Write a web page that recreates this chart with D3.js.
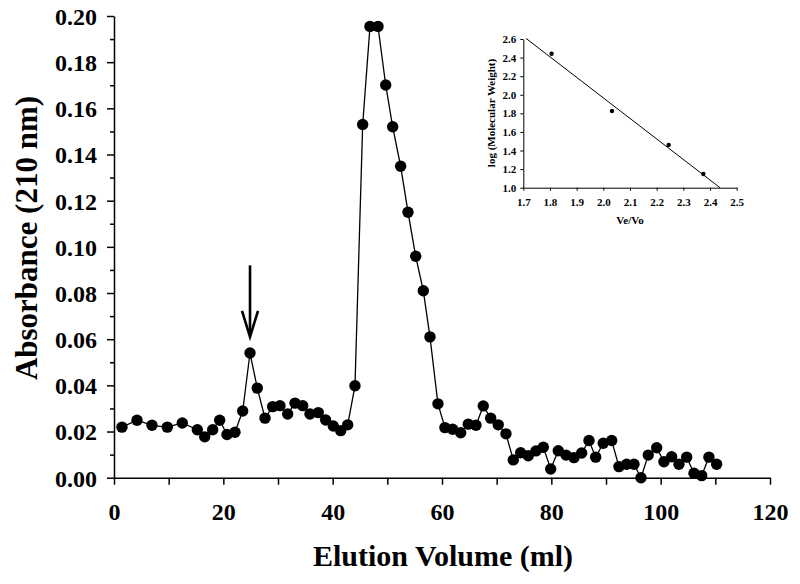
<!DOCTYPE html>
<html><head><meta charset="utf-8">
<script src="https://cdn.jsdelivr.net/npm/d3@7"></script>
<style>body{margin:0;background:#fff}svg{display:block}text{font-family:"Liberation Serif","Times New Roman",serif;font-weight:bold;fill:#000}</style>
</head><body>
<svg id="c" width="800" height="584"></svg>
<script>
// Main chromatogram
const elutionVolume = [1.46,4.21,6.95,9.75,12.49,15.24,16.59,18.05,19.33,20.67,22.13,23.54,24.88,26.21,27.62,29.03,30.36,31.77,33.11,34.52,35.85,37.37,38.72,40.11,41.47,42.75,44.08,45.49,46.83,48.29,49.70,50.98,52.44,53.78,55.19,56.58,57.80,59.26,60.54,61.95,63.42,64.81,66.22,67.55,68.90,70.29,71.70,73.04,74.39,75.78,77.19,78.53,79.88,81.27,82.68,84.14,85.55,86.89,88.11,89.50,91.04,92.37,93.78,95.12,96.40,97.73,99.27,100.60,102.01,103.35,104.76,106.09,107.50,108.83,110.24];
const absorbance = [0.0219,0.0249,0.0227,0.0219,0.0237,0.0208,0.0177,0.0208,0.0249,0.0187,0.0197,0.0289,0.0540,0.0388,0.0258,0.0308,0.0312,0.0276,0.0323,0.0312,0.0276,0.0282,0.0250,0.0224,0.0204,0.0229,0.0398,0.1530,0.1955,0.1955,0.1701,0.1520,0.1349,0.1150,0.0959,0.0810,0.0610,0.0320,0.0217,0.0210,0.0195,0.0232,0.0227,0.0311,0.0258,0.0229,0.0190,0.0077,0.0108,0.0095,0.0116,0.0132,0.0038,0.0117,0.0098,0.0087,0.0107,0.0161,0.0089,0.0149,0.0161,0.0048,0.0058,0.0058,0.0000,0.0098,0.0130,0.0069,0.0091,0.0058,0.0089,0.0019,0.0009,0.0089,0.0058];
const xTicks = [0,20,40,60,80,100,120];
const yTicks = [0.00,0.02,0.04,0.06,0.08,0.10,0.12,0.14,0.16,0.18,0.20];
const arrow = {x:24.88, yTop:0.0920, yTip:0.0610};
// Inset calibration
const insetVeVo = [1.806,2.0325,2.245,2.375];
const insetLogMW = [2.442,1.825,1.459,1.147];
const fitLine = [[1.71,2.607],[2.4375,1.0]];
const insetXTicks = [1.7,1.8,1.9,2.0,2.1,2.2,2.3,2.4,2.5];
const insetYTicks = [1.0,1.2,1.4,1.6,1.8,2.0,2.2,2.4,2.6];

const svg = d3.select("#c");
const x = d3.scaleLinear().domain([0,120]).range([114,770]);
const y = d3.scaleLinear().domain([0,0.2]).range([477.7,16]);

// axes
const gx = svg.append("g").attr("transform",`translate(0,${y(0)})`)
  .call(d3.axisBottom(x).tickValues(d3.range(0,121,10)).tickSize(7).tickSizeOuter(0)
    .tickFormat(d=>xTicks.includes(d)?d:""));
gx.selectAll("text").style("font-size","24px").attr("dy","0").attr("y",42);
const gy = svg.append("g").attr("transform",`translate(${x(0)},0)`)
  .call(d3.axisLeft(y).tickValues(d3.range(0,21,1).map(d=>d/100)).tickSizeOuter(0)
    .tickFormat(d=>{const m=yTicks.find(t=>Math.abs(t-d)<1e-9);return m===undefined?"":d3.format(".2f")(m);}));
gy.selectAll(".tick line").attr("x2",(d)=>yTicks.some(t=>Math.abs(t-d)<1e-9)?-7:-4);
gy.selectAll("text").style("font-size","24px").attr("x",-17).attr("dy","0.35em");
svg.selectAll(".domain,.tick line").attr("stroke","#000").attr("stroke-width",1.5);

// line + points
const pts = elutionVolume.map((v,i)=>[v,absorbance[i]]);
svg.append("path").datum(pts).attr("fill","none").attr("stroke","#000").attr("stroke-width",1.3)
  .attr("d",d3.line().x(d=>x(d[0])).y(d=>y(d[1])));
svg.append("g").selectAll("circle").data(pts).join("circle")
  .attr("cx",d=>x(d[0])).attr("cy",d=>y(d[1])).attr("r",5.7).attr("fill","#000");

// arrow
const ax = x(arrow.x), aTop = y(arrow.yTop), aTip = y(arrow.yTip);
svg.append("line").attr("x1",ax).attr("x2",ax).attr("y1",aTop).attr("y2",aTip-2).attr("stroke","#000").attr("stroke-width",2.6);
svg.append("path").attr("d",`M${ax-8},${aTip-26} L${ax},${aTip} L${ax+8},${aTip-26}`).attr("fill","none").attr("stroke","#000").attr("stroke-width",2.6);

// titles
svg.append("text").attr("x",443).attr("y",566).attr("text-anchor","middle").style("font-size","30px").text("Elution Volume (ml)");
svg.append("text").attr("transform","translate(37,238) rotate(-90)").attr("text-anchor","middle").style("font-size","31px").text("Absorbance (210 nm)");

// inset
const ix = d3.scaleLinear().domain([1.7,2.5]).range([523.3,736.7]);
const iy = d3.scaleLinear().domain([1.0,2.6]).range([187.7,39]);
const igx = svg.append("g").attr("transform",`translate(0,${iy(1.0)})`)
  .call(d3.axisBottom(ix).tickValues(insetXTicks).tickSize(3).tickSizeOuter(0).tickFormat(d3.format(".1f")));
igx.selectAll("text").style("font-size","11px").attr("y",11);
const igy = svg.append("g").attr("transform",`translate(${ix(1.7)},0)`)
  .call(d3.axisLeft(iy).tickValues(insetYTicks).tickSize(3).tickSizeOuter(0).tickFormat(d3.format(".1f")));
igy.selectAll("text").style("font-size","11px").attr("x",-7);
[igx,igy].forEach(g=>g.selectAll(".domain,.tick line").attr("stroke","#000").attr("stroke-width",1));
svg.append("path").datum(fitLine).attr("fill","none").attr("stroke","#000").attr("stroke-width",1)
  .attr("d",d3.line().x(d=>ix(d[0])).y(d=>iy(d[1])));
svg.append("g").selectAll("circle").data(insetVeVo.map((v,i)=>[v,insetLogMW[i]])).join("circle")
  .attr("cx",d=>ix(d[0])).attr("cy",d=>iy(d[1])).attr("r",2.2).attr("fill","#000");
svg.append("text").attr("x",630).attr("y",224).attr("text-anchor","middle").style("font-size","11px").text("Ve/Vo");
svg.append("text").attr("transform","translate(495,113) rotate(-90)").attr("text-anchor","middle").style("font-size","11px").text("log (Molecular Weight)");
</script>
</body></html>
